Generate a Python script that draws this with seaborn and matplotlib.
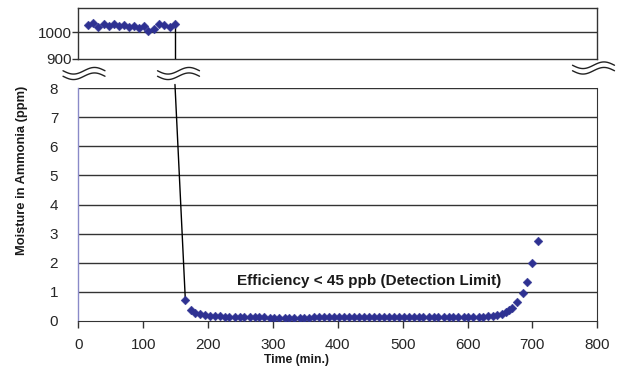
import numpy as np
import matplotlib
matplotlib.use("Agg")
import matplotlib.pyplot as plt
import seaborn as sns
import pandas as pd

# upper segment: moisture before the purifier (ppm)
time_high = [15, 23, 31, 39, 47, 55, 63, 70, 78, 86, 94, 102, 108, 116, 124, 132, 141, 149]
moist_high = [1025, 1033, 1020, 1031, 1022, 1030, 1024, 1028, 1018, 1022, 1016, 1023,
              1004, 1012, 1030, 1026, 1020, 1030]

# lower segment: moisture after the purifier (ppm)
time_low = [165, 173, 180, 187, 195, 203, 210, 218, 226, 233, 241, 249, 256, 264, 272,
            279, 287, 295, 302, 310, 318, 325, 333, 341, 348, 356, 364, 371, 379, 387,
            394, 402, 410, 417, 425, 433, 440, 448, 456, 463, 471, 479, 486, 494, 502,
            509, 517, 525, 532, 540, 548, 555, 563, 571, 578, 586, 594, 601, 609, 617,
            624, 632, 640, 646, 653, 659, 664, 669, 676, 685, 691, 699, 708]
moist_low = [0.72, 0.38, 0.29, 0.23, 0.20, 0.18, 0.17, 0.16, 0.15, 0.15, 0.14, 0.14, 0.13,
             0.13, 0.13, 0.13, 0.13, 0.12, 0.12, 0.12, 0.12, 0.12, 0.12, 0.12, 0.12, 0.12,
             0.13, 0.13, 0.13, 0.13, 0.13, 0.13, 0.13, 0.13, 0.13, 0.14, 0.14, 0.14, 0.14,
             0.14, 0.14, 0.14, 0.14, 0.14, 0.15, 0.15, 0.15, 0.15, 0.15, 0.15, 0.15, 0.15,
             0.15, 0.15, 0.15, 0.15, 0.15, 0.15, 0.15, 0.15, 0.15, 0.16, 0.16, 0.19, 0.23,
             0.30, 0.37, 0.44, 0.64, 0.95, 1.34, 1.98, 2.76]

x_ticks = [0, 100, 200, 300, 400, 500, 600, 700, 800]
y_ticks_low = [0, 1, 2, 3, 4, 5, 6, 7, 8]
y_ticks_high = [900, 1000]

sns.set_style("white")
plt.rcParams['font.family'] = ['Liberation Sans', 'DejaVu Sans']

W, H = 619, 376
fig = plt.figure(figsize=(W / 100, H / 100), dpi=100)


def fx(px):
    return px / W


def fy(py):
    return 1 - py / H


left, right = fx(78.3), fx(597.3)
ax_hi = fig.add_axes([left, fy(59), right - left, fy(8) - fy(59)])
ax_lo = fig.add_axes([left, fy(321), right - left, fy(88) - fy(321)])

mcol = '#2e3192'
grid_col = '#333333'

df_hi = pd.DataFrame({"t": time_high, "m": moist_high})
df_lo = pd.DataFrame({"t": time_low, "m": moist_low})

sns.scatterplot(data=df_hi, x="t", y="m", ax=ax_hi, marker='D', s=20, color=mcol,
                edgecolor=mcol, linewidth=0.3, zorder=5)
sns.scatterplot(data=df_lo, x="t", y="m", ax=ax_lo, marker='D', s=20, color=mcol,
                edgecolor=mcol, linewidth=0.3, zorder=5)

# connecting line across the break
ax_hi.plot([time_high[-1], time_high[-1]], [moist_high[-1], 900], color='black', lw=1, zorder=3)
ax_lo.plot([time_high[-1], time_low[0]], [8.12, moist_low[0]], color='black', lw=1,
           zorder=3, clip_on=False)

# upper axes
ax_hi.set_xlim(0, 800)
ax_hi.set_ylim(900, 1090)
ax_hi.set_yticks(y_ticks_high)
ax_hi.set_yticklabels([str(v) for v in y_ticks_high], fontsize=11)
ax_hi.set_xticks([])
ax_hi.axhline(1000, color=grid_col, lw=1, zorder=1)
for s in ax_hi.spines.values():
    s.set_color(grid_col)
    s.set_linewidth(1)
ax_hi.tick_params(axis='y', left=True, length=4, width=1, color=grid_col, pad=0.5)
ax_hi.set_xlabel("")
ax_hi.set_ylabel("")

# lower axes
ax_lo.set_xlim(0, 800)
ax_lo.set_ylim(0, 8)
ax_lo.set_xticks(x_ticks)
ax_lo.set_xticklabels([str(v) for v in x_ticks], fontsize=11)
ax_lo.set_yticks(y_ticks_low)
ax_lo.set_yticklabels([str(v) for v in y_ticks_low], fontsize=11)
for v in y_ticks_low[1:]:
    ax_lo.axhline(v, color=grid_col, lw=1, zorder=1)
ax_lo.spines['top'].set_visible(False)
ax_lo.spines['left'].set_color('#8a8ac8')
ax_lo.spines['left'].set_linewidth(1)
ax_lo.spines['right'].set_color(grid_col)
ax_lo.spines['bottom'].set_color(grid_col)
ax_lo.tick_params(axis='x', bottom=True, length=5, width=1, color=grid_col, pad=7)
ax_lo.tick_params(axis='y', left=False, pad=11)
ax_lo.set_xlabel("")
ax_lo.set_ylabel("")

ax_lo.text(370 / 0.65 - 78.3 / 0.65, 1.38, "Efficiency < 45 ppb (Detection Limit)",
           ha='center', va='center', fontsize=11, fontweight='bold', color='#1a1a1a')

fig.text(fx(22), fy(170), "Moisture in Ammonia (ppm)", rotation=90, ha='center',
         va='center', fontsize=9.3, fontweight='bold', color='#1a1a1a')
fig.text(fx(297), fy(360), "Time (min.)", ha='center', va='center', fontsize=8.7,
         fontweight='bold', color='#1a1a1a')


# wavy break symbols
def break_mark(cx, cy, width=42, amp=3.3, gap=5.5):
    xs = np.linspace(-width / 2, width / 2, 80)
    wave = amp * np.sin(2 * np.pi * xs / width + np.pi)
    up = cy - gap / 2 + wave
    dn = cy + gap / 2 + wave
    px = cx + xs
    fig.patches.append(plt.Polygon(
        np.column_stack([fx(np.concatenate([px, px[::-1]])),
                         fy(np.concatenate([up, dn[::-1]]))]),
        closed=True, facecolor='white', edgecolor='none',
        transform=fig.transFigure, figure=fig, zorder=10))
    for yy in (up, dn):
        fig.lines.append(plt.Line2D(fx(px), fy(yy), color='#222222', lw=1,
                                    transform=fig.transFigure, figure=fig, zorder=11))


break_mark(84, 73.5)
break_mark(178.5, 73.5)
break_mark(593.5, 68)

fig.savefig("out.png", dpi=100, facecolor='white')
